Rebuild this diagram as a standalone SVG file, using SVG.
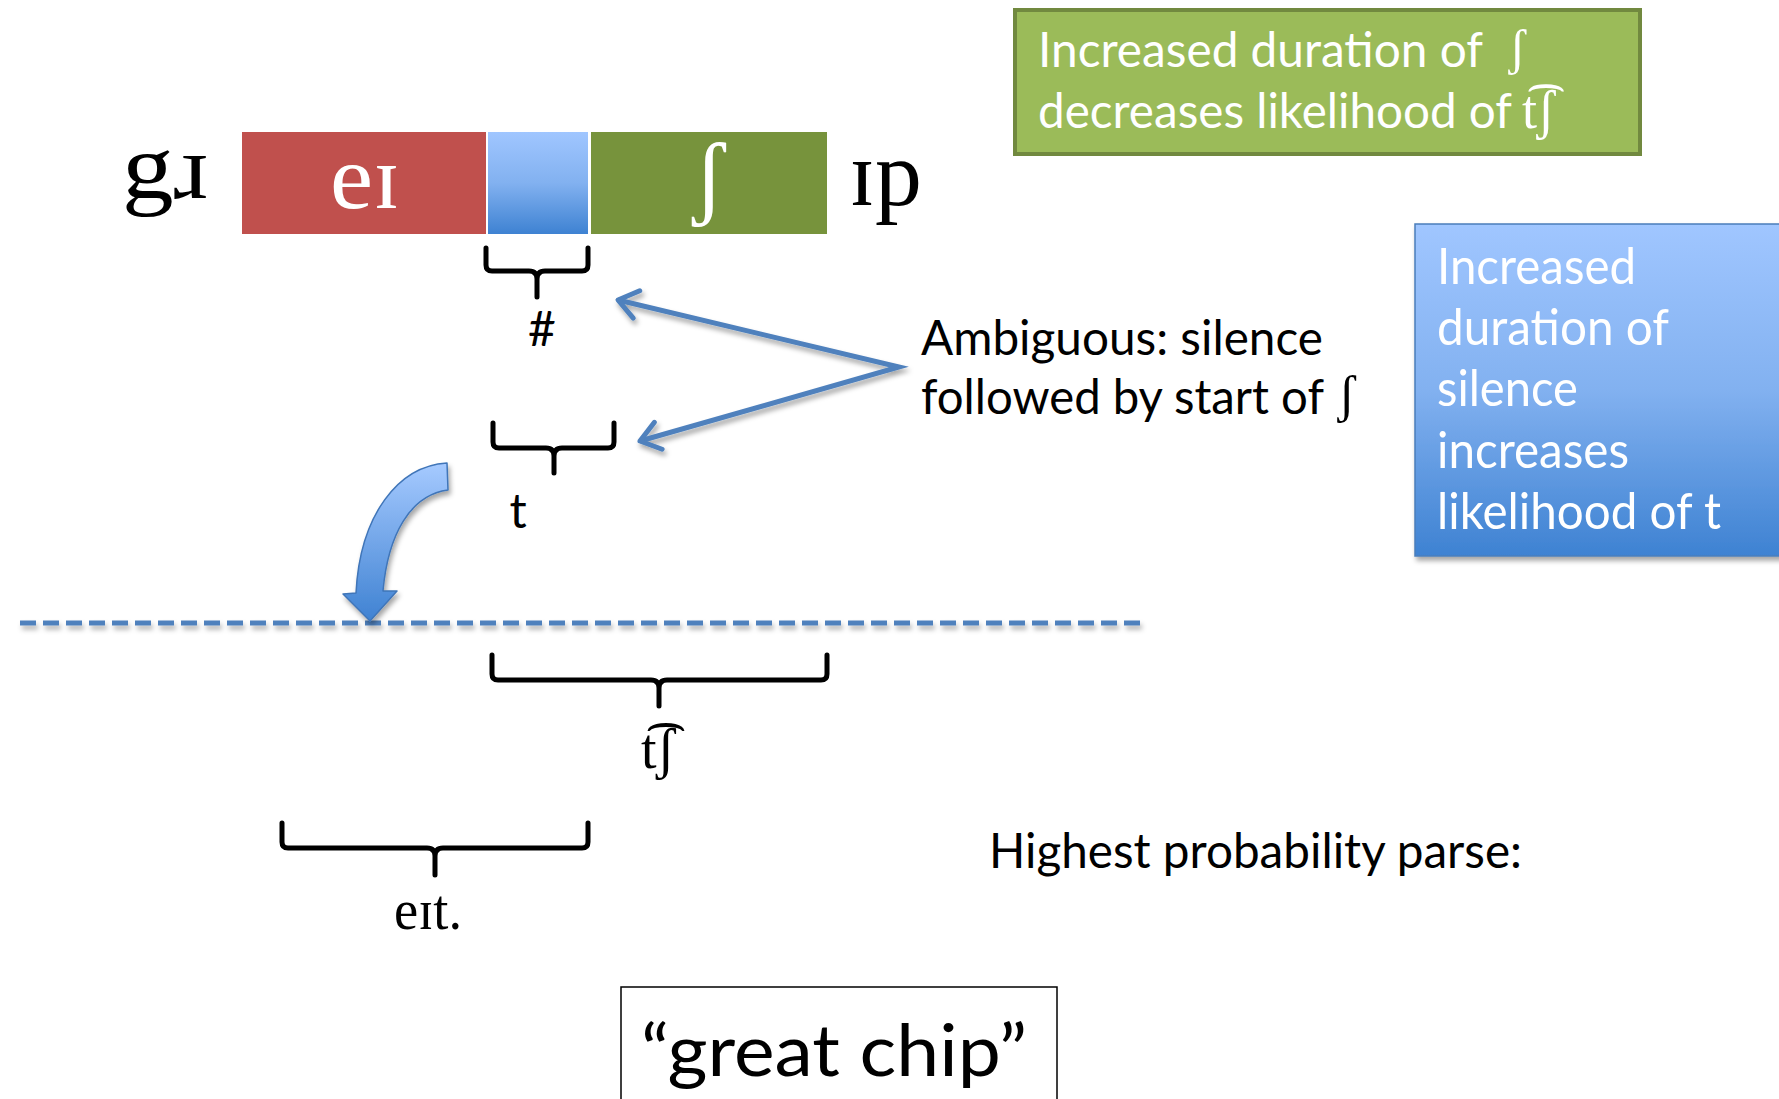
<svg xmlns="http://www.w3.org/2000/svg" width="1779" height="1099" viewBox="0 0 1779 1099">
<style>
.ipa{font-family:"Liberation Serif","DejaVu Serif",serif;}
.sans{font-family:Lato,"Open Sans","Liberation Sans",sans-serif;}
.w{fill:#fff;}
.k{fill:#000;}
.brace{fill:none;stroke:#000;stroke-width:5;stroke-linecap:round;stroke-linejoin:round;}
.conn{fill:none;stroke:#4F81BD;stroke-width:5;stroke-linejoin:miter;}
</style>
<defs>
<linearGradient id="gBlue" x1="0" y1="0" x2="0" y2="1">
<stop offset="0" stop-color="#A0C6FF"/>
<stop offset="0.5" stop-color="#82B1F0"/>
<stop offset="1" stop-color="#3E82D2"/>
</linearGradient>
<linearGradient id="gArrow" x1="0" y1="0" x2="0" y2="1">
<stop offset="0" stop-color="#A6CAFF"/>
<stop offset="1" stop-color="#3F82D2"/>
</linearGradient>
<filter id="sh" x="-10%" y="-10%" width="130%" height="140%">
<feDropShadow dx="2" dy="4" stdDeviation="2.5" flood-color="#000" flood-opacity="0.35"/>
</filter>
<filter id="shl" filterUnits="userSpaceOnUse" x="0" y="600" width="1779" height="50">
<feDropShadow dx="2" dy="4" stdDeviation="2.5" flood-color="#000" flood-opacity="0.3"/>
</filter>
<marker id="vhead" markerUnits="userSpaceOnUse" viewBox="-30 -20 40 40" refX="0" refY="0" markerWidth="40" markerHeight="40" orient="auto-start-reverse" overflow="visible">
<path d="M-19,-14 L0,0 L-19,14" fill="none" stroke="#4F81BD" stroke-width="5" stroke-linecap="round" stroke-linejoin="round"/>
</marker>
</defs>

<g id="segments">
<rect x="242" y="132" width="244" height="102" fill="#C0504D"/>
<rect x="488" y="132" width="100" height="102" fill="url(#gBlue)"/>
<rect x="591" y="132" width="236" height="102" fill="#77933C"/>
<text class="ipa k" x="122" y="198" font-size="92" textLength="86" lengthAdjust="spacingAndGlyphs">gɹ</text>
<text class="ipa w" x="330" y="208" font-size="92" textLength="70" lengthAdjust="spacingAndGlyphs">eɪ</text>
<text class="ipa w" x="709" y="207" font-size="94" text-anchor="middle">ʃ</text>
<text class="ipa k" x="849" y="205" font-size="94" textLength="73" lengthAdjust="spacingAndGlyphs">ɪp</text>
</g>

<g id="box-green">
<rect x="1015" y="10" width="625" height="144" fill="#9BBB59" stroke="#71893F" stroke-width="4"/>
<text class="sans w" x="1038" y="67" font-size="48" textLength="445" lengthAdjust="spacingAndGlyphs">Increased duration of</text>
<text class="ipa w" x="1509" y="64" font-size="50">ʃ</text>
<text class="sans w" x="1038" y="128" font-size="48" textLength="474" lengthAdjust="spacingAndGlyphs">decreases likelihood of</text>
<text class="ipa w" x="1522" y="128" font-size="54">t͡ʃ</text>
</g>

<g id="box-blue" filter="url(#sh)">
<rect x="1415" y="224" width="380" height="332" fill="url(#gBlue)" stroke="#4A7EBB" stroke-width="1.5"/>
<text class="sans w" x="1437" y="284" font-size="50" textLength="199" lengthAdjust="spacingAndGlyphs">Increased</text>
<text class="sans w" x="1437" y="345" font-size="50" textLength="232" lengthAdjust="spacingAndGlyphs">duration of</text>
<text class="sans w" x="1437" y="406" font-size="50" textLength="141" lengthAdjust="spacingAndGlyphs">silence</text>
<text class="sans w" x="1437" y="468" font-size="50" textLength="192" lengthAdjust="spacingAndGlyphs">increases</text>
<text class="sans w" x="1437" y="529" font-size="50" textLength="284" lengthAdjust="spacingAndGlyphs">likelihood of t</text>
</g>

<g id="label-ambiguous">
<text class="sans k" x="921" y="355" font-size="48" textLength="402" lengthAdjust="spacingAndGlyphs">Ambiguous: silence</text>
<text class="sans k" x="921" y="414" font-size="48" textLength="403" lengthAdjust="spacingAndGlyphs">followed by start of</text>
<text class="ipa k" x="1338" y="412" font-size="52">ʃ</text>
</g>

<g id="brace-silence">
<path class="brace" d="M486,248 V265 Q486,271 492,271 H529 Q537,271 537,279 V297 M537,279 Q537,271 545,271 H582 Q588,271 588,265 V248"/>
<text class="sans k" x="542" y="346" font-size="48" text-anchor="middle">#</text>
</g>

<g id="brace-t">
<path class="brace" d="M493,423 V442 Q493,448 499,448 H546 Q554,448 554,456 V473 M554,456 Q554,448 562,448 H608 Q614,448 614,442 V423"/>
<text class="sans k" x="518" y="528" font-size="48" text-anchor="middle">t</text>
</g>

<g id="brace-tsh">
<path class="brace" d="M492,655 V674 Q492,680 498,680 H651 Q659,680 659,688 V706 M659,688 Q659,680 667,680 H821 Q827,680 827,674 V655"/>
<text class="ipa k" x="641" y="768" font-size="56">t͡ʃ</text>
</g>

<g id="brace-eit">
<path class="brace" d="M282,823 V842 Q282,848 288,848 H427 Q435,848 435,856 V875 M435,856 Q435,848 443,848 H582 Q588,848 588,842 V823"/>
<text class="ipa k" x="394" y="929" font-size="58" textLength="68" lengthAdjust="spacingAndGlyphs">eɪt.</text>
</g>

<g id="label-parse">
<text class="sans k" x="989" y="868" font-size="48" textLength="533" lengthAdjust="spacingAndGlyphs">Highest probability parse:</text>
</g>

<g id="box-great-chip">
<rect x="621" y="987" width="436" height="130" fill="#fff" stroke="#000" stroke-width="1.5"/>
<text class="sans k" x="641" y="1076" font-size="72" textLength="386" lengthAdjust="spacingAndGlyphs">“great chip”</text>
</g>

<g id="connectors">
<path class="conn" filter="url(#sh)" d="M618,300 L899,367 L640,441" marker-start="url(#vhead)" marker-end="url(#vhead)"/>
<line x1="20" y1="623" x2="1140" y2="623" stroke="#4F81BD" stroke-width="5" stroke-dasharray="16 7" filter="url(#shl)"/>
<path filter="url(#sh)" d="M447,463 C398,466 360,515 356,593 L343,594 L370,621 L397,591 L383,591 C388,535 410,495 448,490 Z" fill="url(#gArrow)" stroke="#3F75B8" stroke-width="1.5" stroke-linejoin="round"/>
</g>
</svg>
